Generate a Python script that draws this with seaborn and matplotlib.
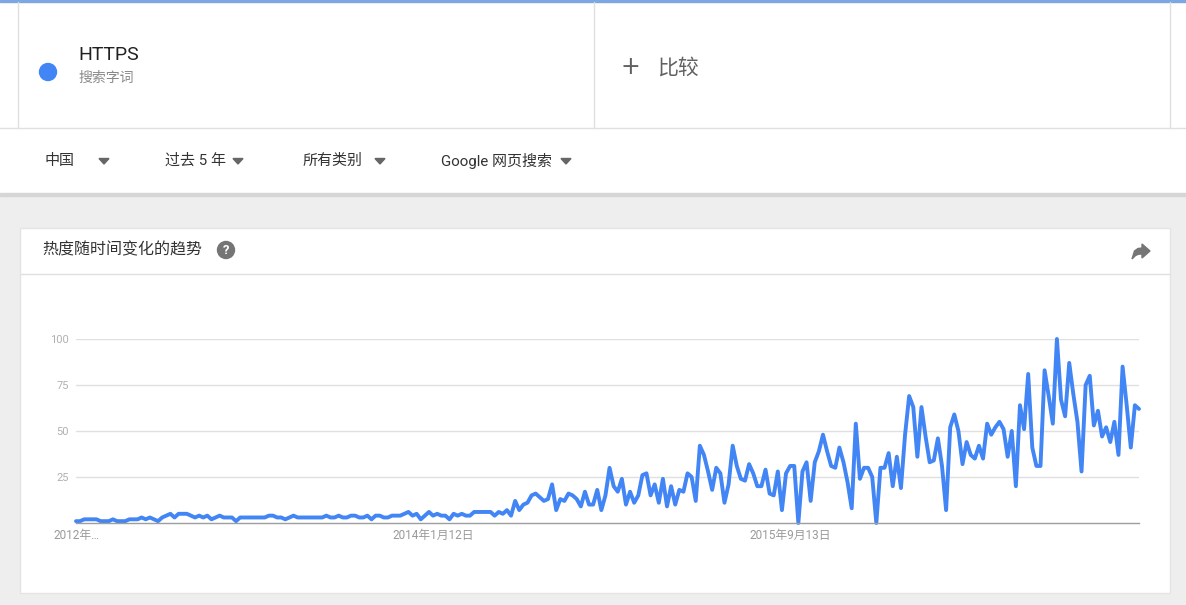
import matplotlib
matplotlib.use("Agg")
from matplotlib import pyplot as plt
from matplotlib.patches import Rectangle, Ellipse, Polygon
import pandas as pd
import seaborn as sns

####  DATA  ####################################################################

startWeek = "2012-05-13"                                        # first weekly point (Sunday)
interest = [
    1, 1, 2, 2, 2, 2, 1, 1, 1, 2,
    1, 1, 1, 2, 2, 2, 3, 2, 3, 2,
    1, 3, 4, 5, 3, 5, 5, 5, 4, 3,
    4, 3, 4, 2, 3, 4, 3, 3, 3, 1,
    3, 3, 3, 3, 3, 3, 3, 4, 4, 3,
    3, 2, 3, 4, 3, 3, 3, 3, 3, 3,
    3, 4, 3, 3, 4, 3, 3, 4, 4, 3,
    3, 4, 2, 4, 4, 3, 3, 4, 4, 4,
    5, 6, 4, 5, 2,
    4, 6, 4, 5, 4, 4, 2, 5, 4, 5, 4, 4,
    6, 6, 6, 6, 6, 4, 6, 5, 7, 4,
    12, 7, 10, 11, 15, 16, 14, 12, 13, 21,
    7, 13, 12, 16, 15, 13, 9, 17, 10, 10,
    18, 7, 15, 30, 20, 17, 24, 10, 17, 11,
    15, 26, 27, 15, 21, 11, 24, 9, 20, 10,
    18, 17, 27, 25, 12, 42, 37, 28, 18, 30,
    27, 11, 21, 42, 31, 24, 23, 32, 27, 20,
    20, 29, 16, 15, 28, 7, 27, 31, 31, 0,
    28, 33, 12, 33, 39, 48, 39, 31, 30, 41,
    33, 22, 8, 54, 24, 30, 30, 25, 0, 30,
    30, 38, 20, 36, 19, 48, 69, 63, 36, 63,
    47, 33, 34, 46, 31, 7, 52, 59, 50, 32,
    44, 37, 35, 42, 35, 54, 48, 52, 55, 51,
    36, 50, 20, 64, 51, 81, 41, 31, 31, 83,
    69, 54, 100, 67, 58, 87, 70, 55, 28, 75,
    80, 53, 61, 47, 52, 44, 55, 37, 85, 64,
    41, 64, 62,
]
tickDates = ["2012-05-13", "2014-01-12", "2015-09-13"]
tickLabels = ["2012年…", "2014年1月12日", "2015年9月13日"]
yTicks = [25, 50, 75, 100]
filters = ["中国", "过去 5 年", "所有类别", "Google 网页搜索"]
term = "HTTPS"
termType = "搜索字词"
compareText = "比较"
cardTitle = "热度随时间变化的趋势"

W, H = 1186, 605                                                # output size in pixels
BLUE = "#4285f4"

####  HELPERS  #################################################################

def fx(x): return x / W
def fy(y): return 1 - y / H

def box(fig, x0, y0, x1, y1, **kw):
    fig.patches.append(Rectangle((fx(x0), fy(y1)), (x1 - x0) / W, (y1 - y0) / H,
                                 transform=fig.transFigure, **kw))

def dot(fig, cx, cy, r, color):
    fig.patches.append(Ellipse((fx(cx), fy(cy)), 2 * r / W, 2 * r / H,
                               transform=fig.transFigure, color=color, zorder=2))

def hline(fig, x0, x1, y, color="#e0e0e0", lw=1):
    fig.add_artist(plt.Line2D([fx(x0), fx(x1)], [fy(y), fy(y)], color=color, lw=lw, zorder=-3))

def vline(fig, x, y0, y1, color="#e0e0e0", lw=1):
    fig.add_artist(plt.Line2D([fx(x), fx(x)], [fy(y0), fy(y1)], color=color, lw=lw, zorder=-3))

def triangle(fig, cx, cy, color="#666666"):
    pts = [(fx(cx - 5), fy(cy - 2.5)), (fx(cx + 5), fy(cy - 2.5)), (fx(cx), fy(cy + 3))]
    fig.patches.append(Polygon(pts, closed=True, transform=fig.transFigure, color=color, zorder=2))

####  MAIN  ####################################################################

def main():
    sns.set_theme(style="white")
    plt.rcParams["font.family"] = ["Roboto", "Noto Sans CJK SC", "DejaVu Sans"]

    fig = plt.figure(figsize=(W / 100, H / 100), dpi=100, facecolor="#eeeeee")

    # top panels: search term + filters
    box(fig, 0, 0, W, 193, color="white", zorder=-5)
    box(fig, 0, 193, W, 196, color="#d6d6d6", zorder=-5)
    box(fig, 0, 0, W, 2, color="#7ea6e0", zorder=-4)
    hline(fig, 0, W, 128)
    for x in (18, 594, 1170):
        vline(fig, x, 2, 128)

    dot(fig, 48, 72, 8.5, BLUE)
    fig.text(fx(78), fy(55), term, fontsize=14, color="#212121", va="center")
    fig.text(fx(78), fy(78), termType, fontsize=10, color="#8a8a8a", va="center")
    fig.text(fx(630), fy(67), "+", fontsize=17, color="#616161", va="center", ha="center",
             family="DejaVu Sans")
    fig.text(fx(657), fy(68), compareText, fontsize=15, color="#616161", va="center")

    textX = [45, 165, 303, 441]
    arrowX = [104, 238, 380, 566]
    for label, tx, ax_ in zip(filters, textX, arrowX):
        fig.text(fx(tx), fy(161), label, fontsize=10.8, color="#333333", va="center")
        triangle(fig, ax_, 161)

    # trend card
    box(fig, 20, 228, 1170, 593, facecolor="white", edgecolor="#e4e4e4", lw=1, zorder=-5)
    hline(fig, 20, 1170, 274)
    fig.text(fx(42), fy(250), cardTitle, fontsize=11.5, color="#333333", va="center")
    dot(fig, 226, 250, 8.5, "#757575")
    fig.text(fx(226), fy(250.5), "?", fontsize=9.5, color="white", va="center", ha="center",
             weight="bold", zorder=3)
    share = [(1150, 251), (1142, 244), (1142, 248), (1138, 248.5), (1134.5, 251),
             (1132, 259), (1135.5, 255.5), (1138.5, 254.2), (1142, 254), (1142, 258)]
    fig.patches.append(Polygon([(fx(a), fy(b)) for a, b in share], closed=True,
                               transform=fig.transFigure, color="#757575", zorder=2))

    # the chart itself
    df = pd.DataFrame({"week": pd.date_range(startWeek, periods=len(interest), freq="W"),
                       "interest": interest})
    ax = fig.add_axes([fx(76), fy(523), (1139 - 76) / W, (523 - 339) / H])
    ax.set_zorder(2)
    ax.set_facecolor("none")
    sns.lineplot(data=df, x="week", y="interest", ax=ax, color=BLUE, linewidth=2.8)
    ax.lines[0].set_clip_on(False)

    ax.set_xlim(df["week"].iloc[0], df["week"].iloc[-1])
    ax.set_ylim(0, 100)
    ax.set_yticks(yTicks)
    ax.set_yticklabels([str(t) for t in yTicks], fontsize=8, color="#b0b0b0")
    ax.set_xticks(pd.to_datetime(tickDates))
    ax.set_xticklabels(tickLabels, fontsize=8.5, color="#9a9a9a")
    ax.tick_params(axis="both", length=0)
    ax.tick_params(axis="y", pad=5)
    ax.tick_params(axis="x", pad=4)
    ax.grid(axis="y", color="#e0e0e0", lw=1)
    ax.set_axisbelow(True)
    for side in ("top", "right", "left"):
        ax.spines[side].set_visible(False)
    ax.spines["bottom"].set_color("#9e9e9e")
    ax.spines["bottom"].set_linewidth(1)
    ax.set_xlabel("")
    ax.set_ylabel("")

    fig.savefig("out.png", dpi=100, facecolor=fig.get_facecolor())

if __name__ == "__main__": main()
